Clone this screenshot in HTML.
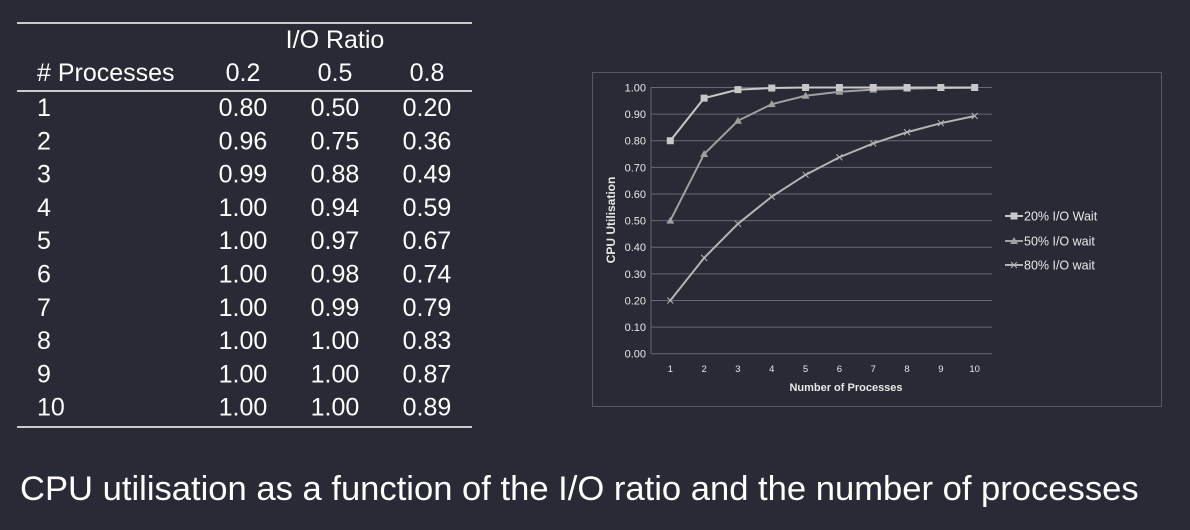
<!DOCTYPE html>
<html><head><meta charset="utf-8"><style>
body{margin:0;width:1190px;height:530px;background:#282a35;overflow:hidden;font-family:"Liberation Sans",sans-serif;color:#fff}
</style></head><body>
<svg width="1190" height="530" style="position:absolute;left:0;top:0">
<g font-family="Liberation Sans, sans-serif" fill="#fff" font-size="25">
<line x1="17" y1="23" x2="472" y2="23" stroke="#fff" stroke-width="1.5"/>
<text x="335" y="48" text-anchor="middle">I/O Ratio</text>
<text x="37" y="81">#&#160;Processes</text>
<text x="243" y="81" text-anchor="middle">0.2</text>
<text x="335" y="81" text-anchor="middle">0.5</text>
<text x="427" y="81" text-anchor="middle">0.8</text>
<line x1="17" y1="91" x2="472" y2="91" stroke="#fff" stroke-width="1.5"/>
<line x1="17" y1="427" x2="472" y2="427" stroke="#fff" stroke-width="1.5"/>
<g id="rows"></g>
<text x="20" y="500" font-size="34.6">CPU utilisation as a function of the I/O ratio and the number of processes</text>
</g>
<rect x="592.5" y="72.5" width="569" height="334" fill="none" stroke="#555863"/>
<g id="chart" font-family="Liberation Sans, DejaVu Sans, sans-serif"></g>
</svg>
<script>
var d=[[0.80,0.50,0.20],[0.96,0.75,0.36],[0.99,0.88,0.49],[1.00,0.94,0.59],[1.00,0.97,0.67],[1.00,0.98,0.74],[1.00,0.99,0.79],[1.00,1.00,0.83],[1.00,1.00,0.87],[1.00,1.00,0.89]];
var exact=[[0.8,0.5,0.2],[0.96,0.75,0.36],[0.992,0.875,0.488],[0.998,0.9375,0.59],[1,0.969,0.672],[1,0.984,0.738],[1,0.992,0.79],[1,0.996,0.832],[1,0.998,0.866],[1,0.999,0.893]];
var s='';
for(var i=0;i<10;i++){var y=116+i*33.3;
s+='<text x="37" y="'+y+'">'+(i+1)+'</text>';
for(var j=0;j<3;j++)s+='<text x="'+(243+92*j)+'" y="'+y+'" text-anchor="middle">'+d[i][j].toFixed(2)+'</text>';}
document.getElementById('rows').innerHTML=s;
var c='',y0=353.7,sc=266.2,x0=670.3,dx=33.82;
for(var k=0;k<=10;k++){var yy=y0-k*sc/10;
c+='<line x1="651" y1="'+yy+'" x2="992" y2="'+yy+'" stroke="#666974" stroke-width="1"/>';
c+='<text x="646" y="'+(yy+4)+'" fill="#e8e8e8" font-size="11" text-anchor="end">'+(k/10).toFixed(2)+'</text>';}
c+='<line x1="651" y1="87" x2="651" y2="354" stroke="#666974"/>';
for(var i=0;i<10;i++)c+='<text x="'+(x0+i*dx)+'" y="372" fill="#e8e8e8" font-size="9.5" text-anchor="middle">'+(i+1)+'</text>';
c+='<text x="846" y="391" fill="#e8e8e8" font-size="11" font-weight="bold" text-anchor="middle">Number of Processes</text>';
c+='<text transform="translate(615,220) rotate(-90)" fill="#e8e8e8" font-size="12" font-weight="bold" text-anchor="middle">CPU Utilisation</text>';
var col=['#c8c8c8','#a0a0a0','#b4b4b4'];
function mk(t,x,y,cl){if(t==0)return '<rect x="'+(x-3.5)+'" y="'+(y-3.5)+'" width="7" height="7" fill="'+cl+'"/>';
if(t==1)return '<path d="M'+x+' '+(y-4)+'L'+(x+4)+' '+(y+3)+'L'+(x-4)+' '+(y+3)+'Z" fill="'+cl+'"/>';
return '<path d="M'+(x-3)+' '+(y-3)+'L'+(x+3)+' '+(y+3)+'M'+(x+3)+' '+(y-3)+'L'+(x-3)+' '+(y+3)+'" stroke="'+cl+'" stroke-width="1"/>';}
for(var j=2;j>=0;j--){var p='';for(var i=0;i<10;i++)p+=(i?'L':'M')+(x0+i*dx)+' '+(y0-exact[i][j]*sc);
c+='<path d="'+p+'" fill="none" stroke="'+col[j]+'" stroke-width="2"/>';
for(var i=0;i<10;i++)c+=mk(j,x0+i*dx,y0-exact[i][j]*sc,col[j]);}
var lab=['20% I/O Wait','50% I/O wait','80% I/O wait'],ly=[216,241,265];
for(var j=0;j<3;j++){c+='<line x1="1005" y1="'+ly[j]+'" x2="1023" y2="'+ly[j]+'" stroke="'+col[j]+'" stroke-width="2"/>'+mk(j,1014,ly[j],col[j]);
c+='<text x="1024" y="'+(ly[j]+4.5)+'" fill="#e8e8e8" font-size="12.5">'+lab[j]+'</text>';}
document.getElementById('chart').innerHTML=c;
</script>
</body></html>
